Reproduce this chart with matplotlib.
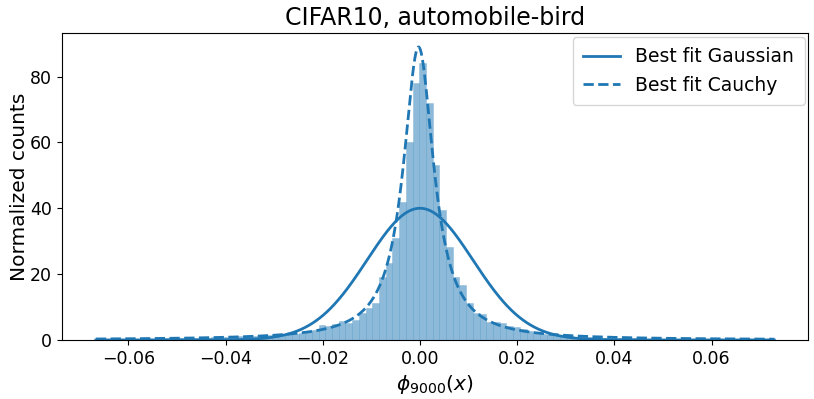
import numpy as np
import matplotlib
matplotlib.use("Agg")
import matplotlib.pyplot as plt

# histogram (normalized counts per bin)
bin_start = -0.0664
bin_width = 0.00138
counts = [
    0.3, 0.2, 0.3, 0.3, 0.3, 0.4, 0.3, 0.4, 0.4, 0.4,
    0.5, 0.5, 0.5, 0.6, 0.6, 0.7, 0.7, 0.8, 0.9, 0.9,
    1.0, 1.1, 1.2, 1.3, 1.3, 1.4, 1.5, 1.6, 1.8, 1.9,
    2.2, 2.6, 3.0, 4.5, 4.2, 4.8, 5.8, 5.0, 6.2, 8.2,
    9.7, 11.2, 19.0, 23.3, 31.0, 42.0, 60.0, 78.0, 84.0, 72.0,
    53.0, 39.5, 28.3, 19.0, 16.8, 11.3, 8.3, 7.8, 5.5, 5.6,
    5.0, 4.3, 3.9, 3.3, 2.6, 2.2, 1.9, 1.6, 1.5, 1.3,
    1.1, 1.0, 0.9, 0.8, 0.8, 0.7, 0.6, 0.6, 0.5, 0.5,
    0.5, 0.4, 0.4, 0.4, 0.4, 0.3, 0.3, 0.3, 0.3, 0.3,
    0.3, 0.3, 0.2, 0.2, 0.2, 0.2, 0.2, 0.2, 0.2, 0.2,
]

# fitted curve parameters
x_range = (-0.0667, 0.0729)
gauss_amp, gauss_mu, gauss_sigma = 40.0, 0.0, 0.0109
cauchy_amp, cauchy_x0, cauchy_gamma = 89.0, -0.0003, 0.00381

edges = bin_start + bin_width * np.arange(len(counts) + 1)

fig, ax = plt.subplots(figsize=(8.14, 3.99), dpi=100)
ax.bar(edges[:-1], counts, width=bin_width, align='edge', color='#1f77b4',
       alpha=0.5, edgecolor='#5a9ccb', linewidth=0.4)

xs = np.linspace(x_range[0], x_range[1], 2000)
gauss = gauss_amp * np.exp(-(xs - gauss_mu) ** 2 / (2 * gauss_sigma ** 2))
cauchy = cauchy_amp / (1 + ((xs - cauchy_x0) / cauchy_gamma) ** 2)
ax.plot(xs, gauss, color='#1f77b4', linewidth=2, label='Best fit Gaussian')
ax.plot(xs, cauchy, color='#1f77b4', linewidth=2, linestyle='--', label='Best fit Cauchy')

ax.set_title("CIFAR10, automobile-bird", fontsize=17)
ax.set_xlabel(r"$\phi_{9000}(x)$", fontsize=14.5)
ax.set_ylabel("Normalized counts", fontsize=14.5, labelpad=1)
ax.tick_params(labelsize=12.5)
ax.set_xlim(-0.0737, 0.0799)
ax.set_ylim(0, 93.2)
ax.legend(fontsize=13.5, loc='upper right', handlelength=2.0, borderaxespad=0.2,
          borderpad=0.55)

fig.subplots_adjust(left=0.076, right=0.993, top=0.917, bottom=0.148)
plt.savefig("out.png", dpi=100)
